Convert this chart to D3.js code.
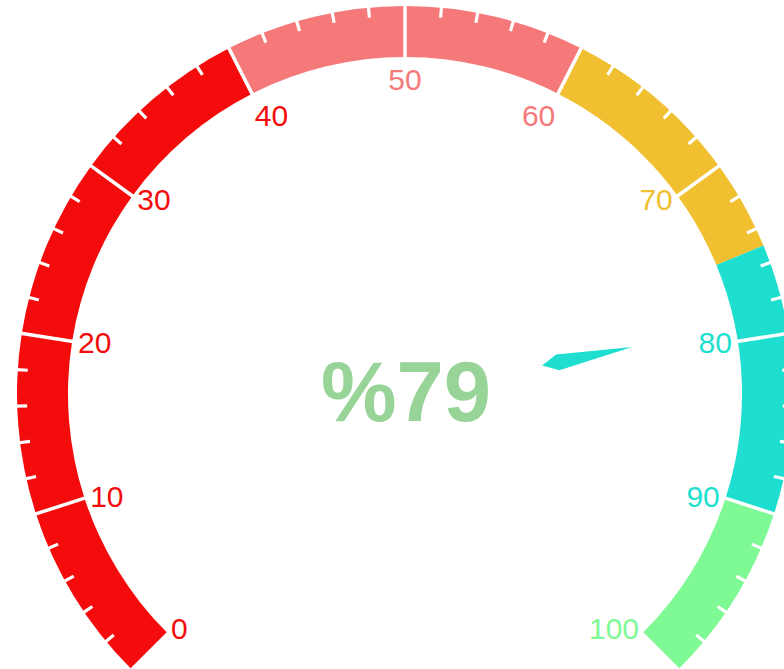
<!DOCTYPE html>
<html>
<head>
<meta charset="utf-8">
<script src="https://cdn.jsdelivr.net/npm/d3@7"></script>
<style>
  html, body { margin: 0; padding: 0; background: #fff; }
  svg { display: block; }
  text { font-family: "Liberation Sans", Arial, Helvetica, sans-serif; }
</style>
</head>
<body>
<div id="chart"></div>
<script>
// gauge data
const segStops = [0, 40, 60, 75, 90, 100];
const segColors = ["#f40c0c", "#f57979", "#f0c030", "#1edfcf", "#7ef994"];
const tickLabels = [0, 10, 20, 30, 40, 50, 60, 70, 80, 90, 100];
const minorTicks = d3.range(0, 101, 2).filter(d => d % 10 !== 0);
const gaugeValue = 79;
const valueText = "%79";

const width = 784, height = 669;
const cx = 405, cy = 394;
const rOuter = 388, rInner = 337, rLabel = 331;

const svg = d3.select("#chart").append("svg")
    .attr("width", width)
    .attr("height", height);

// value -> angle (d3 convention: 0 at 12 o'clock, clockwise)
const angle = d3.scaleLinear().domain([0, 100]).range([-0.75 * Math.PI, 0.75 * Math.PI]);

function pt(v, r) {
    const a = angle(v);
    return [cx + r * Math.sin(a), cy - r * Math.cos(a)];
}
function colorOf(v) {
    for (let i = 0; i < segColors.length; i++) {
        if (v <= segStops[i + 1]) return segColors[i];
    }
    return segColors[segColors.length - 1];
}

const g = svg.append("g").attr("transform", `translate(${cx},${cy})`);

const arc = d3.arc().innerRadius(rInner).outerRadius(rOuter);

g.selectAll("path.seg")
    .data(segColors.map((c, i) => ({ from: segStops[i], to: segStops[i + 1], color: c })))
    .enter().append("path")
    .attr("class", "seg")
    .attr("d", d => arc({ startAngle: angle(d.from), endAngle: angle(d.to) }))
    .attr("fill", d => d.color);

// major split lines
svg.selectAll("line.split")
    .data(tickLabels.filter(d => d > 0 && d < 100))
    .enter().append("line")
    .attr("x1", d => pt(d, rInner - 1)[0])
    .attr("y1", d => pt(d, rInner - 1)[1])
    .attr("x2", d => pt(d, rOuter + 1)[0])
    .attr("y2", d => pt(d, rOuter + 1)[1])
    .attr("stroke", "#fff")
    .attr("stroke-width", 3.5);

// minor ticks
svg.selectAll("line.minor")
    .data(minorTicks)
    .enter().append("line")
    .attr("x1", d => pt(d, rOuter - 10)[0])
    .attr("y1", d => pt(d, rOuter - 10)[1])
    .attr("x2", d => pt(d, rOuter + 1)[0])
    .attr("y2", d => pt(d, rOuter + 1)[1])
    .attr("stroke", "#fff")
    .attr("stroke-width", 3.2);

// axis labels
const fs = 30;
svg.selectAll("text.lbl")
    .data(tickLabels)
    .enter().append("text")
    .attr("x", d => pt(d, rLabel)[0])
    .attr("y", d => {
        const a = angle(d);
        const uy = -Math.cos(a);
        const y = pt(d, rLabel)[1];
        if (uy < -0.8) return y + fs * 0.9;
        if (uy > 0.8) return y - fs * 0.2;
        return y + fs * 0.36;
    })
    .attr("text-anchor", d => {
        const ux = Math.sin(angle(d));
        return ux < -0.4 ? "start" : (ux > 0.4 ? "end" : "middle");
    })
    .attr("font-size", fs)
    .attr("fill", d => colorOf(d))
    .text(d => d);

// pointer (kite shape)
const pa = angle(gaugeValue);
const dir = [Math.sin(pa), -Math.cos(pa)];
const perp = [Math.cos(pa), Math.sin(pa)];
const rBase = 156, rTip = 232, rBack = 140, hw = 8;
const P = (r, w) => [cx + dir[0] * r + perp[0] * w, cy + dir[1] * r + perp[1] * w];
const kite = [P(rBack, 0), P(rBase, -hw), P(rTip, 0), P(rBase, hw)];
svg.append("path")
    .attr("d", d3.line()(kite) + "Z")
    .attr("fill", colorOf(gaugeValue));

// value text
svg.append("text")
    .attr("x", 406)
    .attr("y", 421)
    .attr("text-anchor", "middle")
    .attr("font-size", 85)
    .attr("font-weight", "bold")
    .attr("fill", "#98d498")
    .text(valueText);
</script>
</body>
</html>
